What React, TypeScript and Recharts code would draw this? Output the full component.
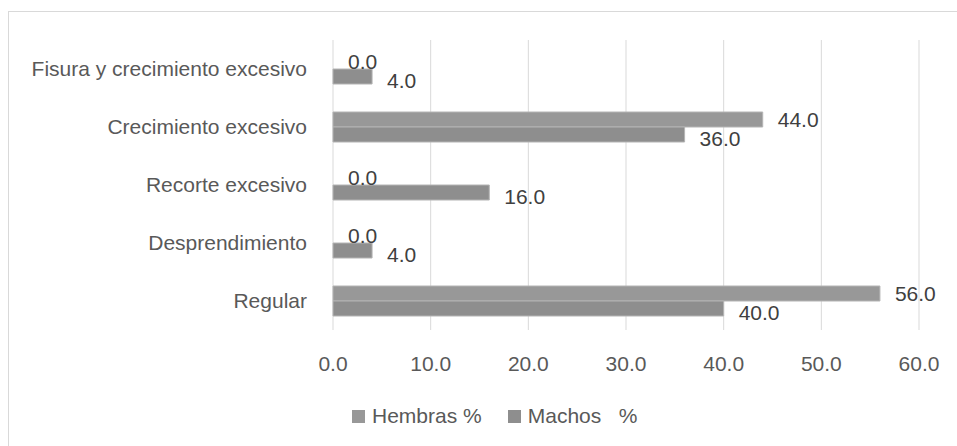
import React from "react"
import { BarChart, Bar, XAxis, YAxis, CartesianGrid, Legend, LabelList } from "recharts"

const categories = [
    "Fisura y crecimiento excesivo",
    "Crecimiento excesivo",
    "Recorte excesivo",
    "Desprendimiento",
    "Regular",
]
const hembras = [0, 44, 0, 0, 56]
const machos = [4, 36, 16, 4, 40]
const xTicks = [0, 10, 20, 30, 40, 50, 60]

const data = categories.map((name, i) => ({ name, hembras: hembras[i], machos: machos[i] }))

const FONT = "'Liberation Sans', Arial, sans-serif"
const HEMBRAS_COLOR = "#989898"
const MACHOS_COLOR = "#8e8e8e"

function ValueText({ x, y, value }: { x: number; y: number; value: number }) {
    return (
        <text x={x} y={y} dominantBaseline="central" fill="#404040" fontSize={21} fontFamily={FONT}>
            {Number(value).toFixed(1)}
        </text>
    )
}

function HembrasLabel(props: any) {
    const { x, y, width, height, value } = props
    if (!value) return null
    return <ValueText x={Number(x) + Number(width) + 15} y={Number(y) + Number(height) / 2} value={value} />
}

// Machos: etiqueta un poco más abajo; si Hembras vale 0, su barra no se dibuja
// y su etiqueta "0.0" se pone aquí, justo encima
function MachosLabel(props: any) {
    const { x, y, width, height, value, index } = props
    const h = hembras[index]
    return (
        <g>
            <ValueText x={Number(x) + Number(width) + 15} y={Number(y) + Number(height) / 2 + 3.5} value={value} />
            {h === 0 && <ValueText x={Number(x) + 15} y={Number(y) - Number(height) / 2} value={h} />}
        </g>
    )
}

function LegendContent() {
    const items = [
        { label: "Hembras %", color: HEMBRAS_COLOR },
        { label: "Machos   %", color: MACHOS_COLOR },
    ]
    return (
        <div style={{ height: 40, display: "flex", alignItems: "center", paddingLeft: 352 }}>
            {items.map((it) => (
                <div key={it.label} style={{ display: "flex", alignItems: "center", marginRight: 26 }}>
                    <span style={{ width: 13, height: 13, background: it.color, marginRight: 7 }} />
                    <span style={{ fontFamily: FONT, fontSize: 21, color: "#595959", whiteSpace: "pre" }}>
                        {it.label}
                    </span>
                </div>
            ))}
        </div>
    )
}

export default function App() {
    return (
        <div style={{ position: "relative", width: 957, height: 446, overflow: "hidden", background: "#fff" }}>
            <style>{"body{margin:0}"}</style>
            <div
                style={{
                    position: "absolute",
                    left: 8,
                    top: 11,
                    width: 980,
                    height: 460,
                    border: "1px solid #d9d9d9",
                    boxSizing: "border-box",
                }}
            />
            <div style={{ position: "absolute", left: 0, top: 0 }}>
                <BarChart
                    width={957}
                    height={446}
                    data={data}
                    layout="vertical"
                    margin={{ top: 40, right: 38, left: 0, bottom: 46 }}
                    barGap={0}
                    barSize={15}
                >
                    <CartesianGrid horizontal={false} stroke="#d9d9d9" />
                    <XAxis
                        type="number"
                        domain={[0, 60]}
                        ticks={xTicks}
                        tickFormatter={(v) => v.toFixed(1)}
                        axisLine={false}
                        tickLine={false}
                        tickMargin={20}
                        height={30}
                        tick={{ fill: "#595959", fontSize: 21, fontFamily: FONT }}
                    />
                    <YAxis
                        type="category"
                        dataKey="name"
                        width={333}
                        axisLine={false}
                        tickLine={false}
                        tickMargin={20}
                        interval={0}
                        tick={{ fill: "#595959", fontSize: 21, fontFamily: FONT }}
                    />
                    <Legend
                        verticalAlign="bottom"
                        content={<LegendContent />}
                        wrapperStyle={{ left: 0, bottom: 10, width: 957 }}
                    />
                    <Bar
                        dataKey="hembras"
                        name="Hembras %"
                        fill={HEMBRAS_COLOR}
                        stroke="#b4b4b4"
                        strokeWidth={1}
                        isAnimationActive={false}
                    >
                        <LabelList dataKey="hembras" content={<HembrasLabel />} />
                    </Bar>
                    <Bar
                        dataKey="machos"
                        name="Machos   %"
                        fill={MACHOS_COLOR}
                        stroke="#b4b4b4"
                        strokeWidth={1}
                        isAnimationActive={false}
                    >
                        <LabelList dataKey="machos" content={<MachosLabel />} />
                    </Bar>
                </BarChart>
            </div>
        </div>
    )
}
